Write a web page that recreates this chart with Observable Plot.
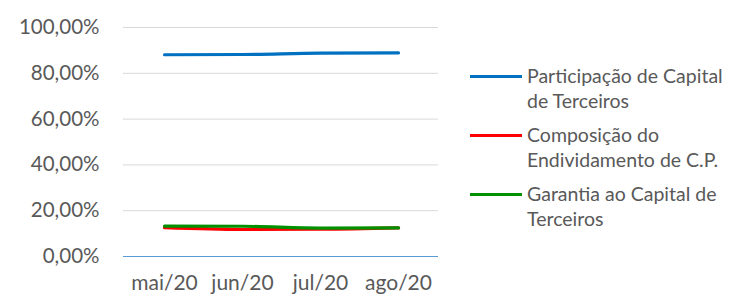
<!DOCTYPE html>
<html>
<head>
<meta charset="utf-8">
<script src="https://cdn.jsdelivr.net/npm/d3@7"></script>
<script src="https://cdn.jsdelivr.net/npm/@observablehq/plot@0.6"></script>
<style>
  body { margin: 0; background: #fff; font-family: Lato, "Open Sans", sans-serif; }
  #wrap { position: relative; width: 729px; height: 296px; overflow: hidden; }
  #legend { position: absolute; left: 470px; top: 63px; font-size: 19.5px; color: #595959; line-height: 25px; white-space: nowrap; }
  .item { display: flex; align-items: flex-start; margin-bottom: 9px; }
  .sw { width: 52px; height: 3px; margin-top: 12px; margin-right: 5px; flex: none; }
</style>
</head>
<body>
<div id="wrap"><div id="legend"></div></div>
<script>
const months = ["mai/20", "jun/20", "jul/20", "ago/20"];
const seriesNames = ["Participação de Capital de Terceiros", "Composição do Endividamento de C.P.", "Garantia ao Capital de Terceiros"];
const legendLines = [["Participação de Capital", "de Terceiros"], ["Composição do", "Endividamento de C.P."], ["Garantia ao Capital de", "Terceiros"]];
const colors = ["#0070C0", "#FF0000", "#009000"];
const participacao = [88.1, 88.2, 88.8, 88.9];
const composicao = [12.6, 11.8, 11.9, 12.5];
const garantia = [13.3, 13.2, 12.4, 12.5];
const yTicks = [0, 20, 40, 60, 80, 100];

const values = [participacao, composicao, garantia];
const data = [];
seriesNames.forEach((s, i) => months.forEach((m, j) => data.push({series: s, month: m, value: values[i][j]})));

const locale = d3.formatLocale({decimal: ",", thousands: ".", grouping: [3], currency: ["R$", ""]});
const fmt = v => locale.format(".2f")(v) + "%";

const chart = Plot.plot({
  width: 729,
  height: 296,
  marginLeft: 123,
  marginRight: 291,
  marginTop: 27,
  marginBottom: 40,
  style: {fontFamily: "Lato, 'Open Sans', sans-serif", fontSize: "20px", color: "#595959", background: "transparent", overflow: "visible"},
  x: {type: "point", domain: months, padding: 0.5, label: null},
  y: {domain: [0, 100], ticks: yTicks, label: null},
  color: {domain: seriesNames, range: colors},
  marks: [
    Plot.gridY(yTicks.filter(d => d > 0), {stroke: "#d9d9d9", strokeOpacity: 1, strokeWidth: 1}),
    Plot.ruleY([0], {stroke: "#5B9BD5", strokeWidth: 1.2}),
    Plot.axisY({ticks: yTicks, tickSize: 0, tickPadding: 24, tickFormat: fmt, fill: "#595959", fontSize: 20.5}),
    Plot.axisX({tickSize: 0, tickPadding: 19, fill: "#595959", fontSize: 21}),
    Plot.line(data, {x: "month", y: "value", z: "series", stroke: "series", strokeWidth: 3.2, curve: "monotone-x"})
  ]
});
document.getElementById("wrap").prepend(chart);
chart.style.position = "absolute";
chart.style.left = "0";
chart.style.top = "0";

const legend = document.getElementById("legend");
legendLines.forEach((lines, i) => {
  const item = document.createElement("div");
  item.className = "item";
  const sw = document.createElement("div");
  sw.className = "sw";
  sw.style.background = colors[i];
  const txt = document.createElement("div");
  txt.innerHTML = lines.join("<br>");
  item.append(sw, txt);
  legend.append(item);
});
</script>
</body>
</html>
